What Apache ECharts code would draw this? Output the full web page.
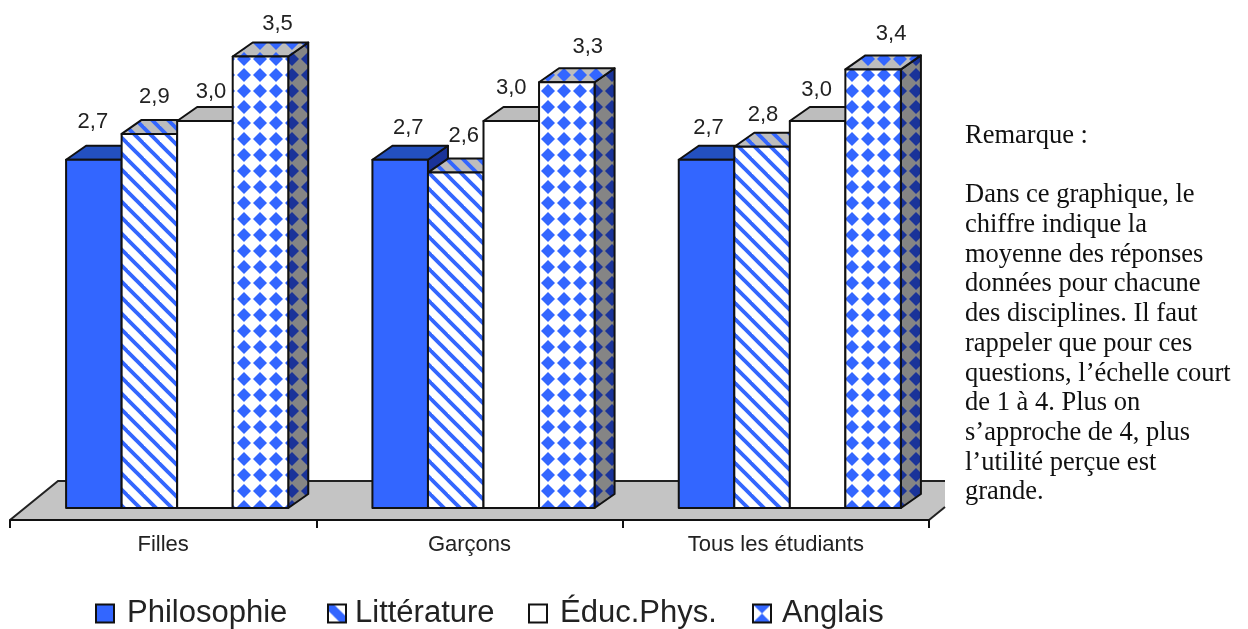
<!DOCTYPE html>
<html><head><meta charset="utf-8">
<style>html,body{margin:0;padding:0;background:#fff}#c{width:1248px;height:629px}</style>
<script src="https://cdn.jsdelivr.net/npm/echarts@6/dist/echarts.min.js"></script>
</head><body><div id="c"></div>
<script>
const categories = ['Filles', 'Garçons', 'Tous les étudiants'];
const philosophie = [2.7, 2.7, 2.7];
const litterature = [2.9, 2.6, 2.8];
const educPhys = [3.0, 3.0, 3.0];
const anglais = [3.5, 3.3, 3.4];
const seriesNames = ['Philosophie', 'Littérature', 'Éduc.Phys.', 'Anglais'];
const remarkLines = [
  ['Remarque :', 0],
  ['Dans ce graphique, le', 2], ['chiffre indique la', 3], ['moyenne des réponses', 4],
  ['données pour chacune', 5], ['des disciplines. Il faut', 6], ['rappeler que pour ces', 7],
  ['questions, l’échelle court', 8], ['de 1 à 4. Plus on', 9], ['s’approche de 4, plus', 10],
  ['l’utilité perçue est', 11], ['grande.', 12]
];

const BLUE = '#3366ff', DARK = '#1a3399', TOP = '#2350c0', GREY = '#bdbdbd', SIDE = '#858585';

function tile(w, h, draw) {
  const c = document.createElement('canvas');
  c.width = w; c.height = h;
  draw(c.getContext('2d'), w, h);
  return { image: c, repeat: 'repeat' };
}
function stripes(bg, fg) {
  return tile(16, 16, (g, w, h) => {
    g.fillStyle = bg; g.fillRect(0, 0, w, h);
    g.strokeStyle = fg; g.lineWidth = 3.8;
    for (let k = -16; k <= 16; k += 16) {
      g.beginPath(); g.moveTo(k - 6, -6); g.lineTo(k + 22, 22); g.stroke();
    }
  });
}
function diamonds(bg, fg) {
  return tile(16, 16, (g, w, h) => {
    g.fillStyle = bg; g.fillRect(0, 0, w, h);
    g.fillStyle = fg;
    for (let i = -1; i <= 1; i++) for (let j = -1; j <= 1; j++) {
      const cx = 4 + i * w, cy = 11 + j * h;
      g.beginPath();
      g.moveTo(cx - 7, cy); g.lineTo(cx, cy - 7); g.lineTo(cx + 7, cy); g.lineTo(cx, cy + 7);
      g.closePath(); g.fill();
    }
  });
}
// Legend swatches: one 18px motif; the pattern origin is the icon's own corner.
function swatch(motif) {
  return tile(18, 18, (g, w, h) => {
    g.fillStyle = '#fff'; g.fillRect(0, 0, w, h);
    g.fillStyle = BLUE;
    motif(g);
  });
}
const legendLefts = [95, 327, 528, 752];
const legendTextGaps = [8, 4, 8, 6];
const LEGEND_TOP = 598;
const litSwatch = swatch(g => {
  g.beginPath(); g.moveTo(0, 0); g.lineTo(6, 0); g.lineTo(18, 12); g.lineTo(18, 18); g.lineTo(12, 18); g.lineTo(0, 6);
  g.closePath(); g.fill();
});
const angSwatch = swatch(g => {
  g.beginPath(); g.moveTo(0, 0); g.lineTo(18, 0); g.lineTo(0, 18); g.lineTo(18, 18);
  g.closePath(); g.fill();
});
const faces = [
  { front: BLUE, top: TOP, side: DARK, icon: BLUE },
  { front: stripes('#fff', BLUE), top: stripes(GREY, BLUE), side: stripes(SIDE, DARK), icon: litSwatch },
  { front: '#ffffff', top: GREY, side: SIDE, icon: '#ffffff' },
  { front: diamonds('#fff', BLUE), top: diamonds(GREY, BLUE), side: diamonds(SIDE, DARK), icon: angSwatch }
];
// Hand placement of each value label relative to its bar's top (one row per category).
const labelNudge = [
  [[-1, -38], [5, -37.3], [6, -29.5], [17, -33]],
  [[8, -32], [8, -37], [0, -33.5], [21, -35.8]],
  [[2, -32], [1, -32.2], [-1, -31.5], [18, -35]]
];
const DX = 20, DY = 14;

function bars(si) {
  return (params, api) => {
    const cat = api.value(0), v = api.value(1);
    const p = api.coord([cat, v]), base = api.coord([cat, 0]);
    const w = api.size([1, 0])[0] * 0.1813;
    const x0 = p[0] + (si - 2) * w, x1 = x0 + w, y = p[1], b = base[1];
    const line = { stroke: '#111', lineWidth: 2, lineJoin: 'round' };
    const nudge = labelNudge[cat][si];
    return {
      type: 'group',
      children: [
        { type: 'polygon', shape: { points: [[x1, y], [x1 + DX, y - DY], [x1 + DX, b - DY], [x1, b]] },
          style: Object.assign({ fill: faces[si].side }, line) },
        { type: 'polygon', shape: { points: [[x0, y], [x0 + DX, y - DY], [x1 + DX, y - DY], [x1, y]] },
          style: Object.assign({ fill: faces[si].top }, line) },
        { type: 'rect', shape: { x: x0, y: y, width: w, height: b - y },
          style: Object.assign({ fill: faces[si].front }, line) },
        { type: 'text', z2: 100,
          style: { text: v.toFixed(1).replace('.', ','), x: x0 + w / 2 + nudge[0], y: y + nudge[1],
                   fill: '#222', font: '22px "Liberation Sans"', textAlign: 'center', textVerticalAlign: 'middle' } }
      ]
    };
  };
}
const allValues = [philosophie, litterature, educPhys, anglais];
const series = allValues.map((vals, si) => ({
  type: 'custom', name: seriesNames[si], xAxisIndex: 0, yAxisIndex: 0, clip: false,
  renderItem: bars(si), encode: { x: 0, y: 1 },
  itemStyle: { color: faces[si].icon, borderColor: '#111', borderWidth: 2 },
  data: vals.map((v, i) => [i, v])
}));

const chart = echarts.init(document.getElementById('c'));
chart.setOption({
  animation: false, backgroundColor: '#fff',
  grid: [
    { left: 24, width: 919, top: 56.5, height: 451.5 },
    { left: 10, width: 919, top: 56.5, height: 463.5 }
  ],
  xAxis: [
    { type: 'category', gridIndex: 0, data: categories, show: false },
    { type: 'category', gridIndex: 1, data: categories,
      axisLine: { lineStyle: { color: '#111', width: 2 } },
      axisTick: { show: true, alignWithLabel: false, length: 8, lineStyle: { color: '#111', width: 2 } },
      axisLabel: { color: '#222', fontFamily: 'Liberation Sans', fontSize: 22, margin: 14 } }
  ],
  yAxis: [
    { type: 'value', gridIndex: 0, min: 0, max: 3.5, interval: 0.5, show: false },
    { type: 'value', gridIndex: 1, show: false }
  ],
  legend: seriesNames.map((name, i) => ({
    left: legendLefts[i], top: LEGEND_TOP, padding: 0, itemWidth: 18, itemHeight: 18, icon: 'rect',
    data: [name],
    textStyle: { color: '#222', fontFamily: 'Liberation Sans', fontSize: 31, padding: [0, 0, 0, legendTextGaps[i]] }
  })),
  graphic: [
    { type: 'polygon', z: -1, silent: true,
      shape: { points: [[10, 520], [58, 481], [945, 481], [945, 507], [929, 520]] },
      style: { fill: '#c4c4c4' } },
    { type: 'polyline', z: -1, silent: true,
      shape: { points: [[10, 520], [58, 481], [945, 481]] },
      style: { fill: 'none', stroke: '#222', lineWidth: 2 } },
    { type: 'polyline', z: -1, silent: true,
      shape: { points: [[929, 520], [945, 507]] },
      style: { fill: 'none', stroke: '#222', lineWidth: 2 } },
    ...remarkLines.map(([t, n]) => ({
      type: 'text', silent: true, x: 965, y: 136 + n * 29.7,
      style: { text: t, fill: '#111', font: '26.5px "Liberation Serif"', textVerticalAlign: 'middle' }
    }))
  ],
  series
});
</script></body></html>
